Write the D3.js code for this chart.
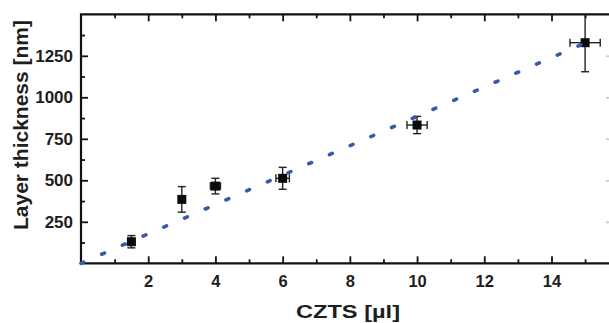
<!DOCTYPE html>
<html>
<head>
<meta charset="utf-8">
<script src="https://cdn.jsdelivr.net/npm/d3@7"></script>
<style>
  html, body { margin: 0; padding: 0; background: #fff; }
  svg { display: block; }
  text { font-family: "Liberation Sans", Arial, sans-serif; font-weight: bold; fill: #1e1e1e; }
</style>
</head>
<body>
<svg id="chart" width="609" height="323"></svg>
<script>
// ---- data ----
const czts      = [1.5, 3, 4, 6, 10, 15];          // µl
const thickness = [130, 385, 465, 512, 833, 1329];  // nm
const yErr      = [37, 77, 47, 66, 52, 175];
const xErr      = [0, 0, 0.15, 0.2, 0.3, 0.45];
const fitSlope  = 88.5;                              // nm per µl, linear fit through origin
const fitRange  = [0, 15];
const xTickVals = [2, 4, 6, 8, 10, 12, 14];
const yTickVals = [250, 500, 750, 1000, 1250];
const xTitle = "CZTS [µl]";
const yTitle = "Layer thickness [nm]";

// ---- layout ----
const svg = d3.select("#chart");
const pL = 81, pR = 613, pT = 14.3, pB = 263.3;
const x = d3.scaleLinear().domain([0, 15.83]).range([pL, pR]);
const y = d3.scaleLinear().domain([0, 1500]).range([pB, pT]);

const minorX = d3.range(1, 16, 2);
const minorY = d3.range(125, 1500, 250);

function ticks(axisGen, g) {
  g.call(axisGen);
  g.select(".domain").remove();
  g.selectAll("line").attr("stroke", "#111").attr("stroke-width", 1.8);
}

// bottom axis
const gB = svg.append("g").attr("transform", `translate(0,${pB})`);
ticks(d3.axisBottom(x).tickValues(xTickVals).tickFormat(d3.format("d")).tickSizeInner(-7).tickSizeOuter(0).tickPadding(12), gB);
gB.selectAll("text").attr("font-size", 16.5).attr("dy", "0.71em");
const gBm = svg.append("g").attr("transform", `translate(0,${pB})`);
ticks(d3.axisBottom(x).tickValues(minorX).tickSizeInner(-4).tickSizeOuter(0).tickFormat(""), gBm);

// top axis
const gT = svg.append("g").attr("transform", `translate(0,${pT})`);
ticks(d3.axisTop(x).tickValues(xTickVals).tickSizeInner(-7).tickSizeOuter(0).tickFormat(""), gT);
const gTm = svg.append("g").attr("transform", `translate(0,${pT})`);
ticks(d3.axisTop(x).tickValues(minorX).tickSizeInner(-4).tickSizeOuter(0).tickFormat(""), gTm);

// left axis
const gL = svg.append("g").attr("transform", `translate(${pL},0)`);
ticks(d3.axisLeft(y).tickValues(yTickVals).tickFormat(d3.format("d")).tickSizeInner(-7).tickSizeOuter(0).tickPadding(8), gL);
gL.selectAll("text").attr("font-size", 17);
const gLm = svg.append("g").attr("transform", `translate(${pL},0)`);
ticks(d3.axisLeft(y).tickValues(minorY).tickSizeInner(-4).tickSizeOuter(0).tickFormat(""), gLm);

// right axis (mostly outside the visible area)
const gR = svg.append("g").attr("transform", `translate(${pR},0)`);
ticks(d3.axisRight(y).tickValues(yTickVals).tickSizeInner(-7).tickSizeOuter(0).tickFormat(""), gR);
gR.selectAll("line").attr("stroke", "#ccc");

// frame
svg.append("path")
  .attr("d", `M${pL},${pT}V${pB}H${pR}V${pT}Z`)
  .attr("fill", "none").attr("stroke", "#111").attr("stroke-width", 2.2);

// error bars
const eb = svg.append("g").attr("stroke", "#222").attr("stroke-width", 1.4).attr("fill", "none");
czts.forEach((cx, i) => {
  const px = x(cx), py = y(thickness[i]);
  const yTop = Math.max(y(thickness[i] + yErr[i]), pT);
  const yBot = y(thickness[i] - yErr[i]);
  eb.append("line").attr("x1", px).attr("x2", px).attr("y1", yTop).attr("y2", yBot);
  if (y(thickness[i] + yErr[i]) >= pT)
    eb.append("line").attr("x1", px - 4).attr("x2", px + 4).attr("y1", yTop).attr("y2", yTop);
  eb.append("line").attr("x1", px - 4).attr("x2", px + 4).attr("y1", yBot).attr("y2", yBot);
  if (xErr[i] > 0) {
    const xl = x(cx - xErr[i]), xr = x(cx + xErr[i]);
    eb.append("line").attr("x1", xl).attr("x2", xr).attr("y1", py).attr("y2", py);
    eb.append("line").attr("x1", xl).attr("x2", xl).attr("y1", py - 4).attr("y2", py + 4);
    eb.append("line").attr("x1", xr).attr("x2", xr).attr("y1", py - 4).attr("y2", py + 4);
  }
});

// squares
svg.append("g").selectAll("rect").data(czts).join("rect")
  .attr("x", (d) => x(d) - 4.5)
  .attr("y", (d, i) => y(thickness[i]) - 4.5)
  .attr("width", 9).attr("height", 9)
  .attr("fill", "#0a0a0a");

// linear fit (dotted)
const line = d3.line().x(d => x(d)).y(d => y(fitSlope * d));
svg.append("path")
  .attr("d", line(fitRange))
  .attr("fill", "none")
  .attr("stroke", "#3a58a8")
  .attr("stroke-width", 3.6)
  .attr("stroke-linecap", "round")
  .attr("stroke-dasharray", "3 19.6");

// titles
svg.append("text")
  .attr("x", 348).attr("y", 318)
  .attr("text-anchor", "middle")
  .attr("font-size", 19)
  .attr("textLength", 104).attr("lengthAdjust", "spacingAndGlyphs")
  .text(xTitle);

svg.append("text")
  .attr("transform", "translate(28,125) rotate(-90)")
  .attr("text-anchor", "middle")
  .attr("font-size", 20.5)
  .attr("textLength", 210).attr("lengthAdjust", "spacingAndGlyphs")
  .text(yTitle);
</script>
</body>
</html>
